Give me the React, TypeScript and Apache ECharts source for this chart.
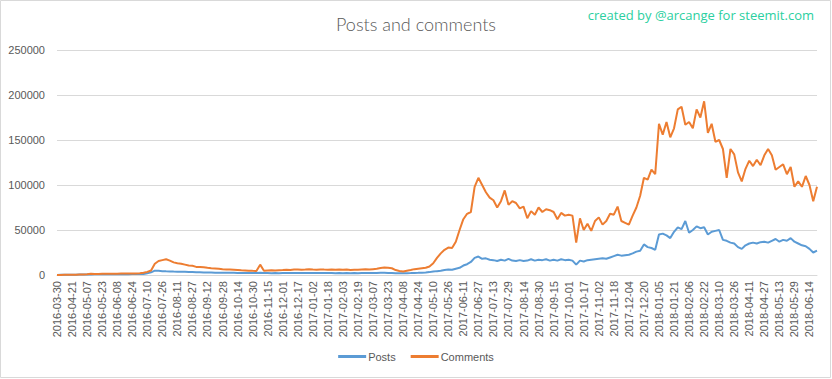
import React, { useEffect, useRef } from "react";
import * as echarts from "echarts";

// Sampled every 4 days (first sample 2016-03-30, then 2016-04-09 onward)
const startDate = "2016-03-30";
const secondStart = "2016-04-09";

const posts: number[] = [
  100, 200, 300, 300, 400, 400, 500, 500,
  600, 600, 700, 700, 700, 800, 800, 800,
  800, 900, 900, 900, 1000, 1000, 1100, 1200,
  2000, 3000, 4800, 4600, 4300, 4100, 4000, 3800,
  3700, 3600, 3500, 3300, 3200, 3100, 3000, 2900,
  2800, 2700, 2600, 2600, 2500, 2500, 2400, 2400,
  2300, 2300, 2200, 2200, 2100, 2100, 2400, 2100,
  2100, 2000, 2100, 2000, 2100, 2100, 2200, 2100,
  2200, 2100, 2200, 2200, 2100, 2200, 2100, 2200,
  2100, 2200, 2000, 2100, 2000, 2100, 2000, 2100,
  2000, 2100, 2100, 2200, 2200, 2300, 2400, 2400,
  2300, 2200, 2000, 1900, 1900, 2000, 2100, 2300,
  2400, 2600, 2800, 3200, 3800, 4300, 4700, 5500,
  6000, 5800, 7000, 8000, 10500, 12000, 14500, 19000,
  20500, 18000, 18500, 17000, 16500, 15500, 17000, 16000,
  18000, 16000, 15500, 16500, 15500, 16000, 17500, 16000,
  17000, 16500, 17500, 16000, 17000, 16000, 17500, 16500,
  17000, 16000, 11500, 16000, 15000, 16500, 17000, 17500,
  18000, 18500, 18000, 19500, 21000, 22500, 21500, 22000,
  22500, 24000, 26000, 27000, 34000, 31000, 30000, 28000,
  45000, 46000, 44000, 41000, 48000, 53000, 51000, 60000,
  47000, 50000, 54000, 52000, 53000, 45000, 48000, 49000,
  50000, 39000, 38000, 36000, 35000, 31000, 29000, 33000,
  35000, 36000, 35000, 36500, 37000, 36000, 38000, 40000,
  37000, 39000, 38000, 41000, 37000, 35000, 33000, 32000,
  29000, 25000, 27000,
];

const comments: number[] = [
  0, 100, 200, 300, 300, 400, 500, 600,
  800, 1500, 1000, 1200, 1300, 1400, 1300, 1500,
  1500, 1600, 1700, 1600, 1800, 1800, 2000, 2500,
  3500, 5000, 12500, 15500, 16500, 17500, 16000, 14000,
  13000, 12500, 11500, 10500, 10200, 9000, 8800, 8500,
  8000, 7600, 7300, 7000, 6500, 6200, 6000, 5800,
  5500, 5200, 5000, 4800, 4600, 4500, 11500, 4800,
  5000, 5200, 5000, 5400, 5500, 5800, 5600, 6000,
  6200, 5800, 6000, 6300, 6000, 5800, 6200, 6000,
  5900, 6100, 5700, 6000, 5800, 6200, 5600, 5900,
  5700, 6000, 6300, 6000, 6500, 7000, 7800, 8200,
  8000, 7500, 5500, 4500, 4000, 4800, 5500, 6500,
  7000, 7500, 8000, 9500, 13000, 19000, 24000, 28000,
  30500, 30000, 37000, 50000, 62000, 68000, 70000, 98000,
  108000, 100000, 92000, 86000, 83000, 75000, 82000, 94000,
  78000, 82000, 80000, 74000, 76000, 63000, 71000, 67000,
  75000, 70000, 73000, 72000, 70000, 62000, 69000, 66000,
  67000, 66000, 36000, 63000, 50000, 57000, 49000, 60000,
  64000, 56000, 60000, 68000, 67000, 76000, 60000, 58000,
  56000, 66000, 75000, 88000, 108000, 106000, 117000, 112000,
  168000, 156000, 170000, 153000, 163000, 184000, 187000, 167000,
  170000, 163000, 184000, 175000, 193000, 158000, 168000, 148000,
  150000, 140000, 108000, 140000, 134000, 114000, 104000, 118000,
  127000, 121000, 128000, 122000, 133000, 140000, 133000, 117000,
  120000, 123000, 112000, 120000, 98000, 104000, 98000, 110000,
  100000, 82000, 98000,
];

const yTicks = [0, 50000, 100000, 150000, 200000, 250000];

function buildDates(n: number): string[] {
  const out: string[] = [startDate];
  const base = new Date(secondStart + "T00:00:00Z").getTime();
  for (let i = 1; i < n; i++) {
    const d = new Date(base + (i - 1) * 4 * 86400000);
    out.push(d.toISOString().slice(0, 10));
  }
  return out;
}

const categories = buildDates(posts.length);

export default function App() {
  const ref = useRef<HTMLDivElement>(null);
  useEffect(() => {
    if (!ref.current) return;
    const chart = echarts.init(ref.current, null, { renderer: "svg" });
    const labelColor = "#595959";
    chart.setOption({
      animation: false,
      backgroundColor: "#ffffff",
      title: {
        text: "Posts and comments",
        left: "center",
        top: 10,
        textStyle: {
          fontFamily: "Lato",
          fontWeight: 300,
          fontSize: 18,
          color: labelColor,
        },
      },
      graphic: [
        {
          type: "rect",
          shape: { x: 0.5, y: 0.5, width: 830, height: 377 },
          style: { fill: "none", stroke: "#D9D9D9", lineWidth: 1 },
          silent: true,
        },
        {
          type: "text",
          right: 18,
          top: 8,
          style: {
            text: "created by @arcange for steemit.com",
            fill: "#2BCFA0",
            font: "13px 'Open Sans'",
          },
        },
      ],
      legend: {
        bottom: 12,
        left: "center",
        itemWidth: 28,
        itemHeight: 3,
        itemGap: 15,
        icon: "rect",
        textStyle: { color: labelColor, fontSize: 11, fontFamily: "Liberation Sans", padding: [0, 0, 0, -3] },
        data: ["Posts", "Comments"],
      },
      grid: { left: 57, right: 15, top: 50, bottom: 104, containLabel: false },
      xAxis: {
        type: "category",
        data: categories,
        boundaryGap: false,
        axisLine: { lineStyle: { color: "#D9D9D9" } },
        axisTick: { show: false },
        axisLabel: {
          interval: 3,
          rotate: 90,
          color: labelColor,
          fontSize: 11,
          fontFamily: "Liberation Sans",
          margin: 6,
        },
      },
      yAxis: {
        type: "value",
        min: yTicks[0],
        max: yTicks[yTicks.length - 1],
        interval: 50000,
        axisLine: { show: false },
        axisTick: { show: false },
        splitLine: { lineStyle: { color: "#D9D9D9" } },
        axisLabel: {
          color: labelColor,
          fontSize: 11,
          fontFamily: "Liberation Sans",
          margin: 12,
          formatter: (v: number) => String(v),
        },
      },
      series: [
        {
          name: "Posts",
          type: "line",
          data: posts,
          showSymbol: false,
          symbol: "none",
          lineStyle: { color: "#5B9BD5", width: 2 },
          itemStyle: { color: "#5B9BD5" },
        },
        {
          name: "Comments",
          type: "line",
          data: comments,
          showSymbol: false,
          symbol: "none",
          lineStyle: { color: "#ED7D31", width: 2 },
          itemStyle: { color: "#ED7D31" },
        },
      ],
    });
    return () => chart.dispose();
  }, []);
  return (
    <div
      ref={ref}
      style={{ position: "fixed", left: 0, top: 0, width: 832, height: 379 }}
    />
  );
}
